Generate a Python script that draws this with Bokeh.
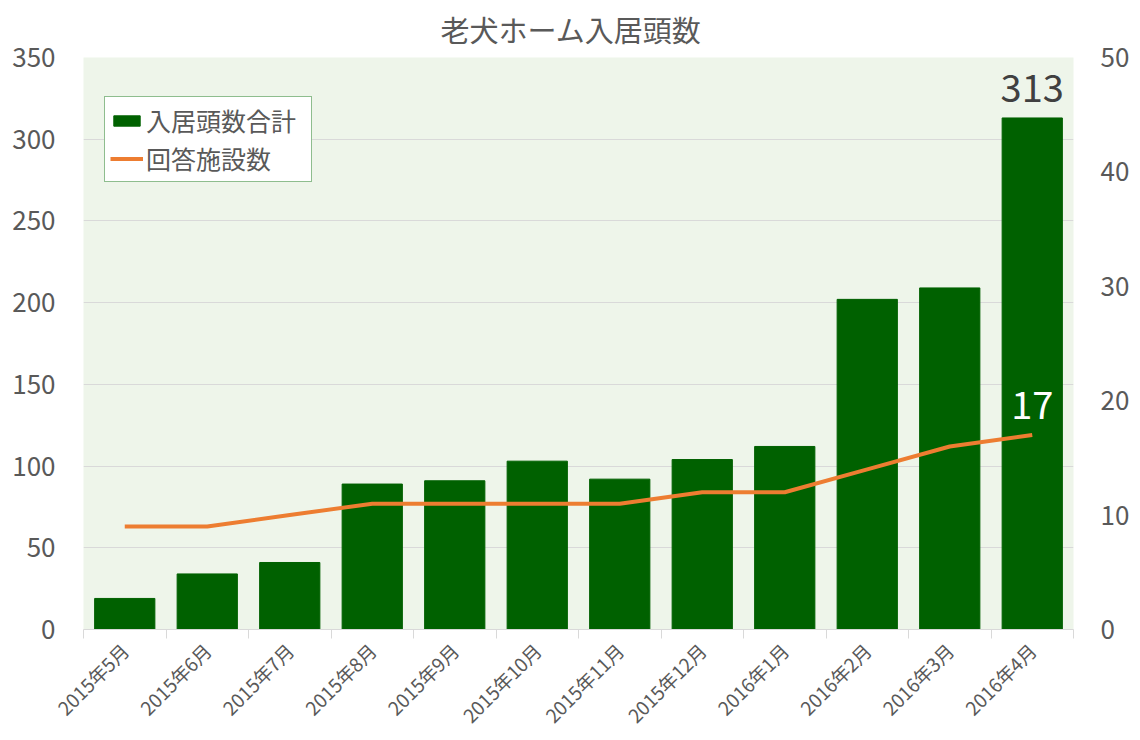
import math
from bokeh.plotting import figure
from bokeh.models import Range1d, LinearAxis, FixedTicker, Legend, LegendItem, Label
from bokeh.embed import file_html
from bokeh.resources import INLINE

# ---- data ----
months = ["2015年5月", "2015年6月", "2015年7月", "2015年8月", "2015年9月", "2015年10月",
          "2015年11月", "2015年12月", "2016年1月", "2016年2月", "2016年3月", "2016年4月"]
residents = [19, 34, 41, 89, 91, 103, 92, 104, 112, 202, 209, 313]   # 入居頭数合計
facilities = [9, 9, 10, 11, 11, 11, 11, 12, 12, 14, 16, 17]          # 回答施設数
left_ticks = [0, 50, 100, 150, 200, 250, 300, 350]
right_ticks = [0, 10, 20, 30, 40, 50]
title_text = "老犬ホーム入居頭数"
bar_name = "入居頭数合計"
line_name = "回答施設数"

FONT = "Noto Sans CJK JP"
GRAY = "#595959"
GRID = "#D9D9D9"
BAR = "#006100"
LINE = "#ED7D31"

xs = list(range(len(months)))
n = len(months)

p = figure(width=1140, height=740, output_backend="svg", toolbar_location=None,
           x_range=Range1d(-0.5, n - 0.5), y_range=Range1d(left_ticks[0], left_ticks[-1]),
           min_border_left=83, min_border_right=67, min_border_top=57, min_border_bottom=109,
           title=title_text)
p.extra_y_ranges = {"right": Range1d(right_ticks[0], right_ticks[-1])}

p.background_fill_color = "#EEF5EA"
p.border_fill_color = "white"
p.outline_line_color = None

p.title.align = "left"
p.title.offset = 357
p.title.vertical_align = "bottom"
p.title.standoff = 16
p.title.text_font = "Noto Sans, Noto Sans CJK JP"
p.title.text_font_size = "29px"
p.title.text_font_style = "normal"
p.title.text_color = GRAY

bars = p.vbar(x=xs, top=residents, width=0.73, fill_color=BAR, line_color=BAR)
line = p.line(x=xs, y=facilities, y_range_name="right", line_color=LINE, line_width=4)

# grid
p.xgrid.grid_line_color = None
p.ygrid.grid_line_color = GRID
p.ygrid.ticker = FixedTicker(ticks=left_ticks)

# left axis
ya = p.yaxis[0]
ya.ticker = FixedTicker(ticks=left_ticks)
ya.axis_line_color = None
ya.major_tick_line_color = None
ya.minor_tick_line_color = None
ya.major_tick_out = 0
ya.major_label_text_font = FONT
ya.major_label_text_font_size = "26px"
ya.major_label_text_color = GRAY
ya.major_label_standoff = 28

# right axis
ra = LinearAxis(y_range_name="right", ticker=FixedTicker(ticks=right_ticks))
ra.axis_line_color = None
ra.major_tick_line_color = None
ra.minor_tick_line_color = None
ra.major_tick_out = 0
ra.major_label_text_font = FONT
ra.major_label_text_font_size = "26px"
ra.major_label_text_color = GRAY
ra.major_label_standoff = 27
p.add_layout(ra, "right")

# bottom axis
xa = p.xaxis[0]
xa.ticker = FixedTicker(ticks=xs, minor_ticks=[i - 0.5 for i in range(n + 1)])
xa.major_label_overrides = {i: m for i, m in enumerate(months)}
xa.major_label_orientation = math.pi / 4
xa.major_label_text_font = FONT
xa.major_label_text_font_size = "19px"
xa.major_label_text_color = GRAY
xa.major_label_standoff = 8
xa.axis_line_color = GRID
xa.major_tick_line_color = None
xa.major_tick_out = 0
xa.major_tick_in = 0
xa.minor_tick_line_color = GRID
xa.minor_tick_out = 9
xa.minor_tick_in = 0

# data labels
p.add_layout(Label(x=xs[-1], y=residents[-1], text=str(residents[-1]), text_align="center",
                   text_baseline="bottom", y_offset=16, text_font=FONT,
                   text_font_size="38px", text_color="#404040"))
p.add_layout(Label(x=xs[-1], y=facilities[-1], y_range_name="right", text=str(facilities[-1]),
                   text_align="center", text_baseline="bottom", y_offset=16,
                   text_font=FONT, text_font_size="38px", text_color="white"))

# legend
legend = Legend(items=[LegendItem(label=bar_name, renderers=[bars]),
                       LegendItem(label=line_name, renderers=[line])],
                location=(21, 447))
legend.border_line_color = "#1E7B1E"
legend.border_line_width = 1.5
legend.background_fill_color = "white"
legend.background_fill_alpha = 1
legend.label_text_font = FONT
legend.label_text_font_size = "25px"
legend.label_text_color = GRAY
legend.label_width = 160
legend.glyph_width = 33
legend.glyph_height = 13
legend.label_standoff = 3
legend.padding = 5
legend.spacing = 2
legend.margin = 0
p.add_layout(legend, "center")

open("out.html", "w").write(file_html(p, INLINE))
